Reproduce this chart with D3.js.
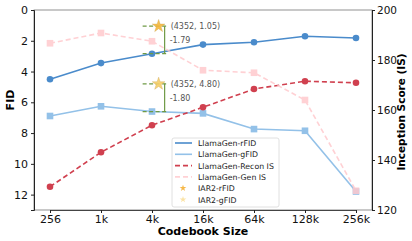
<!DOCTYPE html>
<html>
<head>
<meta charset="utf-8">
<script src="https://cdn.jsdelivr.net/npm/d3@7"></script>
<style>
  body { margin: 0; background: #fff; }
  svg text { font-family: "DejaVu Sans", sans-serif; }
</style>
</head>
<body>
<div id="chart"></div>
<script>
// data
var sizes = ["256", "1k", "4k", "16k", "64k", "128k", "256k"];
var rFID = [4.50, 3.45, 2.84, 2.25, 2.10, 1.71, 1.82];
var gFID = [6.89, 6.26, 6.60, 6.72, 7.74, 7.85, 11.80];
var reconIS = [129.3, 143.1, 153.9, 161.1, 168.4, 171.5, 170.9];
var genIS = [186.7, 190.8, 187.5, 175.9, 174.9, 164.0, 127.7];
var fidTicks = [0, 2, 4, 6, 8, 10, 12];
var isTicks = [120, 140, 160, 180, 200];

// IAR2 points (codebook 4352, sits a little right of the 4k tick)
var iarName = ["IAR2-rFID", "IAR2-gFID"];
var iarFID = [1.05, 4.80];
var iarBase = [2.84, 6.60];
var iarDelta = ["-1.79", "-1.80"];
var iarPos = 2.13; // position in tick units

var w = 412, h = 241;
var pLeft = 34, pRight = 372, pTop = 10, pBottom = 210;

var svg = d3.select("#chart").append("svg")
  .attr("width", w)
  .attr("height", h);

var x = d3.scaleLinear().domain([0, sizes.length - 1]).range([50, 356]);
var yF = d3.scaleLinear().domain([0, 13]).range([pTop, pBottom]);
var yI = d3.scaleLinear().domain([120, 200]).range([pBottom, pTop]);

// frame
svg.append("rect")
  .attr("x", pLeft).attr("y", pTop)
  .attr("width", pRight - pLeft).attr("height", pBottom - pTop)
  .attr("fill", "none").attr("stroke", "#777").attr("stroke-width", 0.8);

// axes
var xAxis = svg.append("g")
  .attr("transform", "translate(0," + pBottom + ")")
  .call(d3.axisBottom(x).tickValues(d3.range(sizes.length)).tickFormat(function(i) { return sizes[i]; }).tickSize(3).tickPadding(2));
var yAxisL = svg.append("g")
  .attr("transform", "translate(" + pLeft + ",0)")
  .call(d3.axisLeft(yF).tickValues(fidTicks).tickSize(3).tickPadding(3));
var yAxisR = svg.append("g")
  .attr("transform", "translate(" + pRight + ",0)")
  .call(d3.axisRight(yI).tickValues(isTicks).tickSize(3).tickPadding(2));

[xAxis, yAxisL, yAxisR].forEach(function(g) {
  g.select(".domain").attr("stroke", "#222").attr("stroke-width", 1);
  g.selectAll(".tick line").attr("stroke", "#222");
  g.selectAll(".tick text").attr("font-size", 11).attr("fill", "#111");
});
yAxisR.selectAll(".tick text").attr("font-size", 10.5);
xAxis.select(".domain").attr("stroke", "#444");

svg.append("text")
  .attr("transform", "translate(14,100) rotate(-90)")
  .attr("text-anchor", "middle")
  .attr("font-size", 11).attr("font-weight", "bold")
  .text("FID");
svg.append("text")
  .attr("transform", "translate(405,112) rotate(-90)")
  .attr("text-anchor", "middle")
  .attr("font-size", 10.5).attr("font-weight", "bold")
  .text("Inception Score (IS)");
svg.append("text")
  .attr("x", 203).attr("y", 235)
  .attr("text-anchor", "middle")
  .attr("font-size", 11).attr("font-weight", "bold")
  .text("Codebook Size");

// series
var series = [
  { name: "LlamaGen-rFID", values: rFID, y: yF, color: "#4a8bcb", dash: null, marker: "circle", opacity: 1 },
  { name: "LlamaGen-gFID", values: gFID, y: yF, color: "#93c1e8", dash: null, marker: "square", opacity: 1 },
  { name: "LlamaGen-Recon IS", values: reconIS, y: yI, color: "#d0404f", dash: "5,3", marker: "circle", opacity: 1 },
  { name: "LlamaGen-Gen IS", values: genIS, y: yI, color: "#ffc9cd", dash: "5,3", marker: "square", opacity: 0.85 }
];

series.forEach(function(s) {
  var line = d3.line()
    .x(function(d, i) { return x(i); })
    .y(function(d) { return s.y(d); });
  var g = svg.append("g").attr("opacity", s.opacity);
  g.append("path")
    .datum(s.values)
    .attr("d", line)
    .attr("fill", "none")
    .attr("stroke", s.color)
    .attr("stroke-width", 1.6)
    .attr("stroke-dasharray", s.dash);
  if (s.marker === "circle") {
    g.selectAll("circle").data(s.values).enter().append("circle")
      .attr("cx", function(d, i) { return x(i); })
      .attr("cy", function(d) { return s.y(d); })
      .attr("r", 3.3)
      .attr("fill", s.color);
  } else {
    g.selectAll("rect").data(s.values).enter().append("rect")
      .attr("x", function(d, i) { return x(i) - 3.3; })
      .attr("y", function(d) { return s.y(d) - 3.3; })
      .attr("width", 6.6).attr("height", 6.6)
      .attr("fill", s.color);
  }
});

// IAR2 annotations
var star = d3.symbol().type(d3.symbolStar);
var green = "#6f9a45";
var sx = x(iarPos);
iarFID.forEach(function(v, i) {
  var g = svg.append("g");
  [v, iarBase[i]].forEach(function(yy) {
    g.append("line")
      .attr("x1", sx - 16).attr("x2", sx + 8)
      .attr("y1", yF(yy)).attr("y2", yF(yy))
      .attr("stroke", green).attr("stroke-width", 1.2)
      .attr("stroke-dasharray", "4,2.5");
  });
  g.append("line")
    .attr("x1", sx + 6).attr("x2", sx + 6)
    .attr("y1", yF(v)).attr("y2", yF(iarBase[i]))
    .attr("stroke", green).attr("stroke-width", 1.2);
  g.append("path")
    .attr("d", star.size(50))
    .attr("transform", "translate(" + sx + "," + yF(v) + ")")
    .attr("fill", i === 0 ? "#f5b83c" : "#f7cf68")
    .attr("stroke", "#c9a24a").attr("stroke-width", 0.4)
    .attr("opacity", 0.9);
  g.append("text")
    .attr("x", sx + 12).attr("y", yF(v) + 3)
    .attr("font-family", "Liberation Serif, serif")
    .attr("font-size", 8).attr("fill", "#555")
    .text("(4352, " + v.toFixed(2) + ")");
  g.append("text")
    .attr("x", sx + 11).attr("y", yF((v + iarBase[i]) / 2) + 3)
    .attr("font-family", "Liberation Serif, serif")
    .attr("font-size", 8).attr("fill", "#555")
    .text(iarDelta[i]);
});

// legend
var lg = svg.append("g").attr("transform", "translate(172,138)");
lg.append("rect")
  .attr("width", 107).attr("height", 69).attr("rx", 2)
  .attr("fill", "#fff").attr("fill-opacity", 0.85)
  .attr("stroke", "#d8d8d8").attr("stroke-width", 0.8);
var items = series.map(function(s) { return { name: s.name, color: s.color, dash: s.dash, star: false, opacity: s.opacity }; })
  .concat([
    { name: iarName[0], color: "#f6b84a", star: true },
    { name: iarName[1], color: "#fbe3a6", star: true }
  ]);
items.forEach(function(it, i) {
  var yy = 5 + i * 11.3;
  if (it.star) {
    lg.append("path")
      .attr("d", star.size(14))
      .attr("transform", "translate(11," + yy + ")")
      .attr("fill", it.color);
  } else {
    lg.append("line")
      .attr("x1", 3).attr("x2", 20).attr("y1", yy).attr("y2", yy)
      .attr("stroke", it.color).attr("stroke-width", 1.6)
      .attr("stroke-opacity", it.opacity)
      .attr("stroke-dasharray", it.dash);
  }
  lg.append("text")
    .attr("x", 26).attr("y", yy + 3)
    .attr("font-size", 7.8).attr("fill", "#222")
    .text(it.name);
});
</script>
</body>
</html>
